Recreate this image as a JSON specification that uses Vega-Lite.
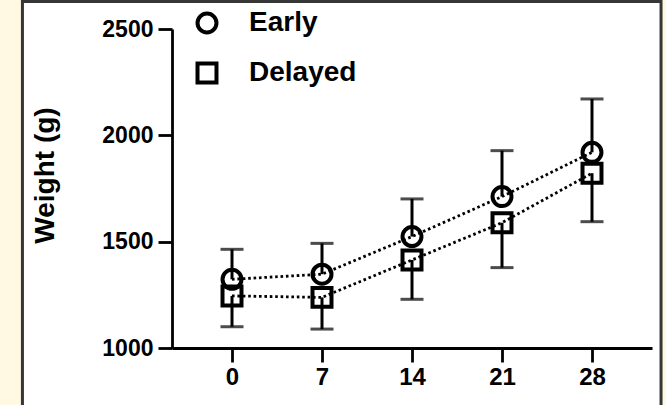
{
  "$schema": "https://vega.github.io/schema/vega-lite/v6.json",
  "width": 480,
  "height": 319,
  "autosize": {"type": "none"},
  "padding": {"left": 172, "top": 29, "right": 14, "bottom": 57},
  "background": "#fff8e3",
  "config": {
    "view": {"stroke": null},
    "font": "Liberation Sans"
  },
  "data": {
    "values": [
      {"day": 0, "group": "Early", "mean": 1323, "bar_end": 1464},
      {"day": 7, "group": "Early", "mean": 1347, "bar_end": 1492},
      {"day": 14, "group": "Early", "mean": 1524, "bar_end": 1701},
      {"day": 21, "group": "Early", "mean": 1712, "bar_end": 1928},
      {"day": 28, "group": "Early", "mean": 1920, "bar_end": 2171},
      {"day": 0, "group": "Delayed", "mean": 1245, "bar_end": 1100},
      {"day": 7, "group": "Delayed", "mean": 1238, "bar_end": 1089},
      {"day": 14, "group": "Delayed", "mean": 1414, "bar_end": 1229},
      {"day": 21, "group": "Delayed", "mean": 1589, "bar_end": 1378},
      {"day": 28, "group": "Delayed", "mean": 1822, "bar_end": 1594}
    ]
  },
  "layer": [
    {
      "data": {"values": [{"panel": "frame"}]},
      "mark": {"type": "rect", "fill": "white", "stroke": "#363636", "strokeWidth": 3},
      "encoding": {
        "x": {"datum": -16.3, "type": "quantitative", "scale": {"domain": [-4.667, 32.667], "nice": false, "zero": false},
          "axis": {"values": [0, 7, 14, 21, 28], "zindex": 2, "title": null, "grid": false,
            "domainColor": "black", "domainWidth": 2.8, "tickColor": "black", "tickWidth": 2.8, "tickSize": 14,
            "labelFont": "Liberation Sans", "labelFontWeight": "bold", "labelColor": "black", "labelFontSize": 24,
            "labelPadding": 3, "labelOverlap": false, "labelFlush": false, "format": "d"}},
        "x2": {"datum": 33.37},
        "y": {"datum": 2629, "type": "quantitative", "scale": {"domain": [1000, 2500], "nice": false, "zero": false},
          "axis": {"values": [1000, 1500, 2000, 2500], "zindex": 2, "title": "Weight (g)", "grid": false,
            "domainColor": "black", "domainWidth": 2.8, "tickColor": "black", "tickWidth": 2.8, "tickSize": 14,
            "labelFont": "Liberation Sans", "labelFontWeight": "bold", "labelColor": "black", "labelFontSize": 23,
            "labelPadding": 5, "labelOverlap": false, "labelFlush": false, "format": "d",
            "titleFont": "Liberation Sans", "titleFontSize": 28, "titleFontWeight": "bold", "titleColor": "black",
            "titleBaseline": "alphabetic", "titleX": -119, "titleY": 146, "titleAngle": 270}},
        "y2": {"datum": 600}
      }
    },
    {
      "mark": {"type": "line", "color": "black", "strokeWidth": 2.8, "strokeDash": [2.6, 2.8]},
      "encoding": {
        "x": {"field": "day", "type": "quantitative", "title": null},
        "y": {"field": "mean", "type": "quantitative", "title": "Weight (g)"},
        "detail": {"field": "group"}
      }
    },
    {
      "mark": {"type": "rule", "color": "black", "strokeWidth": 3},
      "encoding": {
        "x": {"field": "day", "type": "quantitative", "title": null},
        "y": {"field": "mean", "type": "quantitative", "title": "Weight (g)"},
        "y2": {"field": "bar_end"}
      }
    },
    {
      "mark": {"type": "tick", "orient": "horizontal", "color": "black", "size": 23, "thickness": 3},
      "encoding": {
        "x": {"field": "day", "type": "quantitative", "title": null},
        "y": {"field": "bar_end", "type": "quantitative", "title": "Weight (g)"}
      }
    },
    {
      "mark": {"type": "point", "filled": false, "stroke": "black", "strokeWidth": 4, "size": 360, "opacity": 1},
      "encoding": {
        "x": {"field": "day", "type": "quantitative", "title": null},
        "y": {"field": "mean", "type": "quantitative", "title": "Weight (g)"},
        "shape": {
          "field": "group",
          "type": "nominal",
          "scale": {"domain": ["Early", "Delayed"], "range": ["circle", "square"]},
          "legend": {
            "orient": "none",
            "legendX": 21,
            "legendY": -20,
            "title": null,
            "padding": 0,
            "labelFont": "Liberation Sans",
            "labelFontSize": 28,
            "labelFontWeight": "bold",
            "labelColor": "black",
            "labelOffset": 28,
            "symbolSize": 360,
            "symbolStrokeWidth": 4,
            "symbolStrokeColor": "black",
            "symbolFillColor": "transparent",
            "rowPadding": 14,
            "zindex": 2
          }
        }
      }
    }
  ]
}
